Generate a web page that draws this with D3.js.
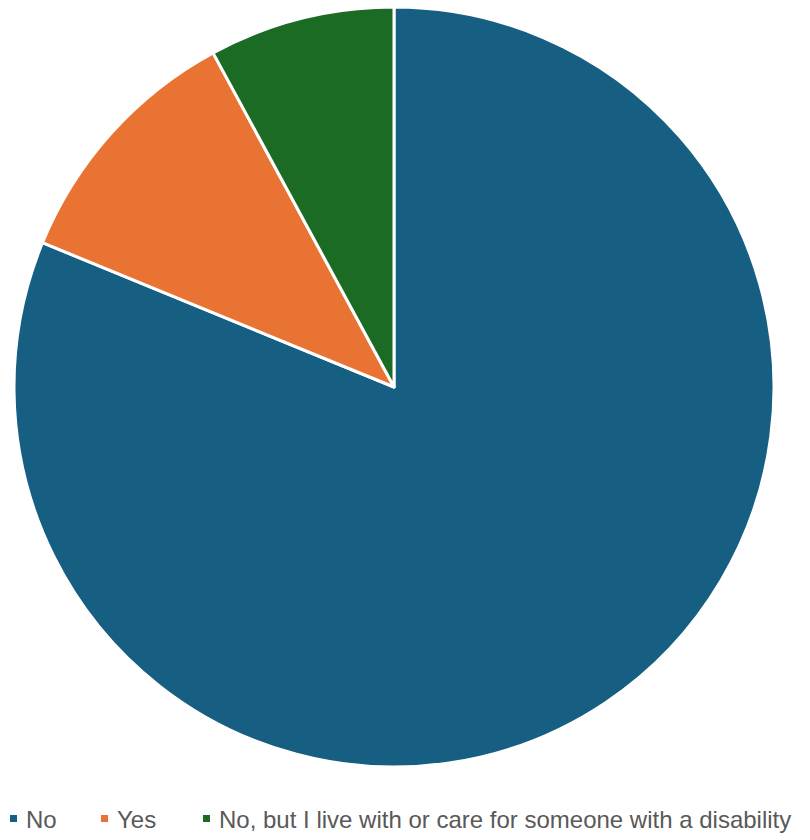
<!DOCTYPE html>
<html>
<head>
<meta charset="utf-8">
<script src="https://cdn.jsdelivr.net/npm/d3@7"></script>
<style>
body { margin: 0; background: #fff; }
svg { display: block; font-family: "Liberation Sans", Arial, sans-serif; }
</style>
</head>
<body>
<script>
  // data
  var categories = ["No", "Yes", "No, but I live with or care for someone with a disability"];
  var values = [81.2, 10.9, 7.9];
  var colors = ["#175f82", "#e97333", "#1b6b24"];

  var width = 810, height = 840;
  var cx = 394, cy = 387, radius = 380;

  var svg = d3.select("body").append("svg").attr("width", width).attr("height", height);
  var g = svg.append("g").attr("transform", "translate(" + cx + "," + cy + ")");

  var pie = d3.pie().value(function(d) { return d; }).sort(null);
  var arc = d3.arc().innerRadius(0).outerRadius(radius);

  g.selectAll("path")
    .data(pie(values))
    .enter()
    .append("path")
    .attr("d", arc)
    .attr("fill", function(d, i) { return colors[i]; })
    .attr("stroke", "#fff")
    .attr("stroke-width", 3)
    .attr("stroke-linejoin", "round");

  // legend
  var legendX = [10, 101, 203];
  var legend = svg.append("g");
  var items = legend.selectAll("g")
    .data(categories)
    .enter()
    .append("g")
    .attr("transform", function(d, i) { return "translate(" + legendX[i] + ",828)"; });

  items.append("rect")
    .attr("x", 0).attr("y", -13)
    .attr("width", 7).attr("height", 7)
    .attr("fill", function(d, i) { return colors[i]; });

  items.append("text")
    .attr("x", 16)
    .attr("y", 0)
    .attr("font-size", 24)
    .attr("fill", "#595959")
    .text(function(d) { return d; });
</script>
</body>
</html>
